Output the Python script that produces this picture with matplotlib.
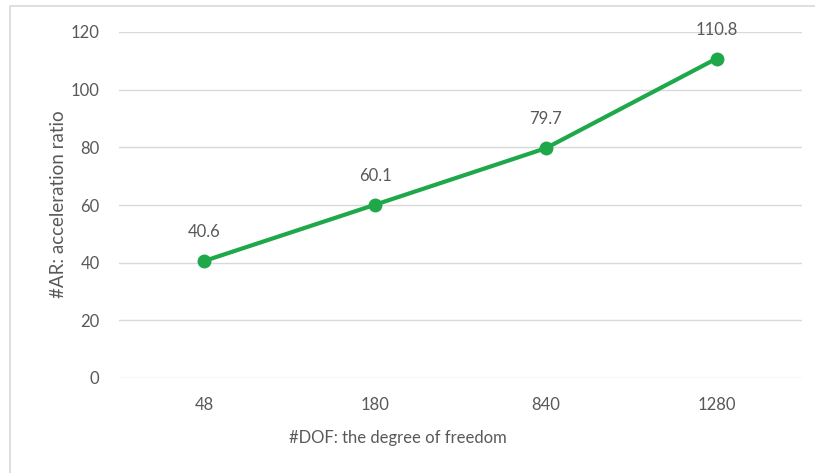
import matplotlib
matplotlib.use("Agg")
import matplotlib.pyplot as plt
from matplotlib.patches import Rectangle

categories = ["48", "180", "840", "1280"]
ratios = [40.6, 60.1, 79.7, 110.8]
y_ticks = [0, 20, 40, 60, 80, 100, 120]

plt.rcParams["font.family"] = ["Lato", "DejaVu Sans"]
text_color = "#595959"
line_color = "#1fa84a"

fig = plt.figure(figsize=(8.15, 4.73), dpi=100)
W, H = 815, 473
ax = fig.add_axes([119 / W, 1 - 378 / H, (802 - 119) / W, (378 - 32) / H])

# chart frame
fig.patches.append(Rectangle((10 / W, -0.1), 1.2, 1 - 6 / H + 0.1,
                             transform=fig.transFigure, fill=False,
                             edgecolor="#d9d9d9", linewidth=1.2))

x = list(range(len(categories)))
ax.plot(x, ratios, color=line_color, linewidth=3, marker="o",
        markersize=9, zorder=3, solid_capstyle="round")
for xi, v in zip(x, ratios):
    ax.annotate(f"{v}", (xi, v), xytext=(0, 15), textcoords="offset points",
                ha="center", va="bottom", fontsize=12, color=text_color)

ax.set_xlim(-0.5, len(categories) - 0.5)
ax.set_ylim(0, 120)
ax.set_yticks(y_ticks)
ax.set_xticks(x)
ax.set_xticklabels(categories)
ax.grid(axis="y", color="#d9d9d9", linewidth=1)
ax.set_axisbelow(True)
for s in ax.spines.values():
    s.set_visible(False)
ax.tick_params(axis="both", length=0, labelsize=12, colors=text_color)
ax.tick_params(axis="y", pad=14)
ax.tick_params(axis="x", pad=14)

fig.text(398 / W, 1 - 438 / H, "#DOF: the degree of freedom", ha="center",
         va="center", fontsize=12, color=text_color)
fig.text(58 / W, 1 - 204 / H, "#AR: acceleration ratio", ha="center",
         va="center", rotation=90, fontsize=13.5, color=text_color)

fig.savefig("out.png", dpi=100)
